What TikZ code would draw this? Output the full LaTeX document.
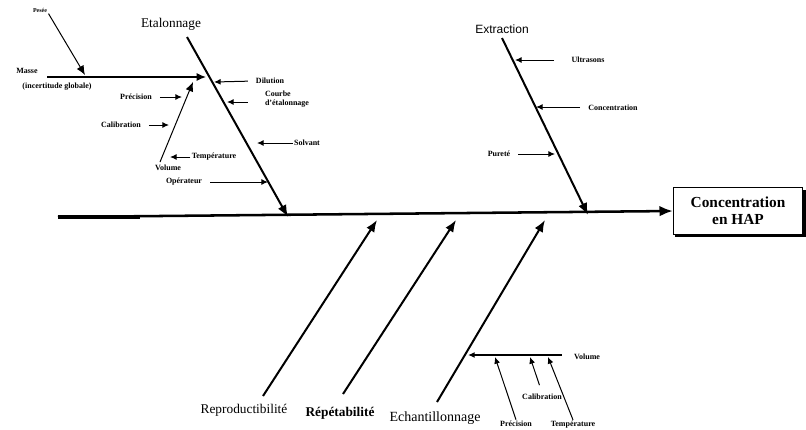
\documentclass[tikz,border=0pt]{standalone}
\usepackage{fontspec}
\setmainfont{Liberation Serif}
\newfontfamily\arialfont{Liberation Sans}
\usetikzlibrary{arrows.meta,backgrounds}

\tikzset{every picture/.style={line width=0.75pt}}
\tikzset{
  bone/.style={line width=1.5pt,-{Latex[length=9pt,width=7pt]}},
  rib/.style={line width=0.75pt,-{Latex[length=5pt,width=4.5pt]}},
  tag/.style={rib,shorten <=5pt},
  cause/.style={inner sep=0.75pt,font=\fontsize{10}{12}\selectfont},
  small/.style={inner sep=0.75pt,font=\fontsize{6}{7}\selectfont\bfseries},
}

\begin{document}
\begin{tikzpicture}[x=0.75pt,y=0.75pt,yscale=-1,xscale=1]
\path[use as bounding box] (0,0) rectangle (806,429);

%Effect box
\node [draw,fill=white,inner sep=2pt,minimum width=97pt,minimum height=35pt,align=center,font=\fontsize{11.5}{13}\selectfont\bfseries] (effect) at (738,211) {Concentration\\en HAP};
\begin{scope}[on background layer]
\fill ([shift={(2.5,2.5)}]effect.south west) rectangle ([shift={(2.5,2.5)}]effect.north east);
\end{scope}

%Spine
\coordinate (spineS) at (58,217);
\coordinate (spineK) at (140,217);
\draw [line width=1.9pt,-{Latex[length=10pt,width=8pt]}] (spineS) -- (effect.west);
\draw [line width=3pt] (spineS) -- (spineK);

%Etalonnage branch
\node [cause] (etal) at (171,24) {Etalonnage};
\coordinate (etalT) at (187,37);
\coordinate (etalB) at (288,217);
\draw [bone] (etalT) -- (etalB);

%Extraction branch
\node [inner sep=0.75pt,font=\arialfont\fontsize{9}{11}\selectfont] (extr) at (502,29) {Extraction};
\coordinate (extrT) at (502,38);
\coordinate (extrB) at (588,215);
\draw [bone] (extrT) -- (extrB);

%Lower branches
\coordinate (reprB) at (263,396);
\coordinate (reprT) at (377,220);
\draw [bone] (reprB) -- (reprT);
\node [cause] (repr) at (244,410) {Reproductibilité};
\coordinate (repeB) at (343,394);
\coordinate (repeT) at (456,220);
\draw [bone] (repeB) -- (repeT);
\node [cause,font=\fontsize{10}{12}\selectfont\bfseries] (repe) at (340,413) {Répétabilité};
\coordinate (echaB) at (437,402);
\coordinate (echaT) at (545,220);
\draw [bone] (echaB) -- (echaT);
\node [cause,font=\fontsize{10.5}{12}\selectfont] (echa) at (435,418) {Echantillonnage};

%Masse line
\node [small] (masse) at (27,71) {Masse};
\node [small] (incert) at (57,87) {(incertitude globale)};
\coordinate (masseS) at (47,77);
\coordinate (masseK) at (140,77);
\coordinate (masseE) at (206,77);
\draw [line width=0.9pt,-{Latex[length=7pt,width=6pt]}] (masseS) -- (masseE);
\draw [line width=1.6pt] (masseS) -- (masseK);
\node [small,font=\fontsize{4.5}{5}\selectfont\bfseries] (pesee) at (40,10) {Pesée};
\coordinate (peseeP) at (85,75);
\draw [line width=0.75pt,-{Latex[length=7pt,width=6pt]}] (pesee.south east) -- (peseeP);

%Volume sub-branch
\coordinate (volS) at (160,162);
\coordinate (volE) at (193,82);
\draw [line width=0.75pt,-{Latex[length=7pt,width=6pt]}] (volS) -- (volE);
\node [small] (volA) at (168,168) {Volume};

% Text Node
\node [small] (prec) at (136,97) {Précision};
\coordinate (precP) at (182,97);
\draw [tag] (prec) -- (precP);
\node [small] (calib) at (121,125) {Calibration};
\coordinate (calibP) at (169,125);
\draw [tag] (calib) -- (calibP);
\node [small] (temp) at (214,157) {Température};
\coordinate (tempP) at (170,157);
\draw [rib] (temp) -- (tempP);
\node [small] (oper) at (184,182) {Opérateur};
\coordinate (operP) at (268,182);
\draw [tag] (oper) -- (operP);
\node [small] (dil) at (270,81) {Dilution};
\coordinate (dilP) at (214,82);
\draw [tag] (dil.west) -- (dilP);
\node [small,align=left] (courbe) at (287,99) {Courbe\\d'étalonnage};
\coordinate (courbeP) at (227,102);
\draw [rib,shorten <=12pt] (courbe.west |- courbeP) -- (courbeP);
\node [small] (solv) at (307,143) {Solvant};
\coordinate (solvP) at (257,143);
\draw [rib] (solv) -- (solvP);

% Text Node
\node [small] (ultra) at (588,60) {Ultrasons};
\coordinate (ultraP) at (515,60);
\draw [rib,shorten <=12pt] (ultra) -- (ultraP);
\node [small] (conc) at (613,108) {Concentration};
\coordinate (concP) at (536,107);
\draw [tag] (conc.west |- concP) -- (concP);
\node [small] (pur) at (499,154) {Pureté};
\coordinate (purP) at (555,154);
\draw [tag] (pur) -- (purP);

%Echantillonnage sub-branch
\node [small] (volB) at (587,357) {Volume};
\coordinate (echV) at (468,355);
\draw [line width=1pt,-{Latex[length=5pt,width=4.5pt]},shorten <=8pt] (volB.west |- echV) -- (echV);
\node [small] (precB) at (516,424) {Précision};
\coordinate (precBP) at (495,357);
\draw [rib] (precB.north) -- (precBP);
\node [small] (calibB) at (542,397) {Calibration};
\coordinate (calibBP) at (530,357);
\draw [rib,shorten <=6pt] (calibB.north) -- (calibBP);
\node [small] (tempB) at (573,425) {Température};
\coordinate (tempBP) at (548,357);
\draw [rib] (tempB.north) -- (tempBP);

\end{tikzpicture}
\end{document}
